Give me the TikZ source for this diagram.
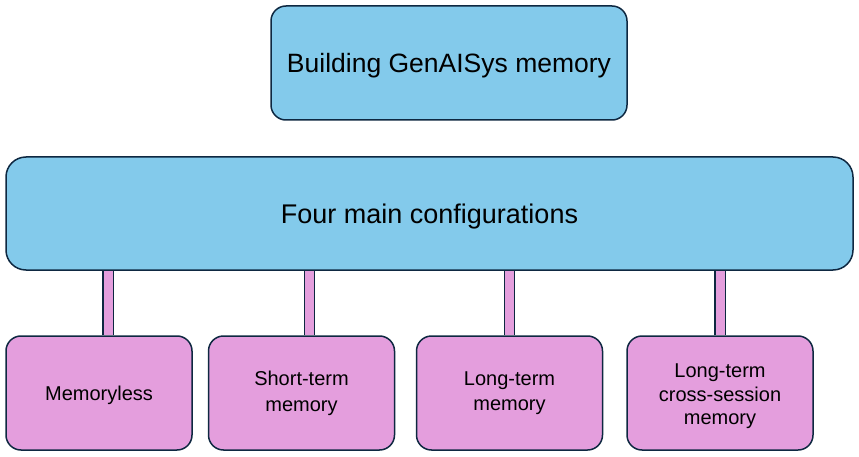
\documentclass[tikz,border=0pt]{standalone}
\usepackage{fontspec}
\setmainfont{Liberation Sans}
\usetikzlibrary{backgrounds}
\definecolor{boxblue}{HTML}{83CAEB}
\definecolor{boxpink}{HTML}{E49EDD}
\definecolor{edge}{HTML}{0E2841}
\newcommand{\lowered}[2]{\raisebox{-#1}[0pt][0pt]{#2}}
\begin{document}
\begin{tikzpicture}[x=1pt,y=-1pt,
  base/.style={draw=edge, line width=1.5pt, rounded corners=15pt, inner sep=0pt, align=center, text=black},
  bluebox/.style={base, fill=boxblue},
  pinkbox/.style={base, fill=boxpink, minimum width=186pt, minimum height=114pt, font=\fontsize{20}{24}\selectfont},
  conn/.style={draw=edge, line width=1.3pt, double=boxpink, double distance=9pt}
]
\useasboundingbox (0,0) rectangle (859,457);
\node[bluebox, minimum width=356pt, minimum height=114pt, font=\fontsize{26.5}{30}\selectfont] (top) at (449,63) {\lowered{10pt}{Building GenAISys memory}};
\node[bluebox, minimum width=847pt, minimum height=113pt, rounded corners=20pt, font=\fontsize{27}{31}\selectfont] (mid) at (429.5,213.5) {\lowered{9.5pt}{Four main configurations}};
\node[pinkbox] (b1) at (99,393) {\lowered{7.5pt}{Memoryless}};
\node[pinkbox] (b2) at (301.5,393) {Short-term\\[2pt]memory};
\node[pinkbox] (b3) at (509.5,393) {Long-term\\[1pt]memory};
\node[pinkbox, text height=68pt] (b4) at (720,393) {Long-term\\[-0.5pt]cross-session\\[-0.5pt]memory};
\begin{scope}[on background layer]
\draw[conn] ([xshift=9pt]b1.north) -- ([xshift=9pt]b1.north |- mid.south);
\draw[conn] ([xshift=8pt]b2.north) -- ([xshift=8pt]b2.north |- mid.south);
\draw[conn] (b3.north) -- (b3.north |- mid.south);
\draw[conn] (b4.north) -- (b4.north |- mid.south);
\end{scope}
\end{tikzpicture}
\end{document}
